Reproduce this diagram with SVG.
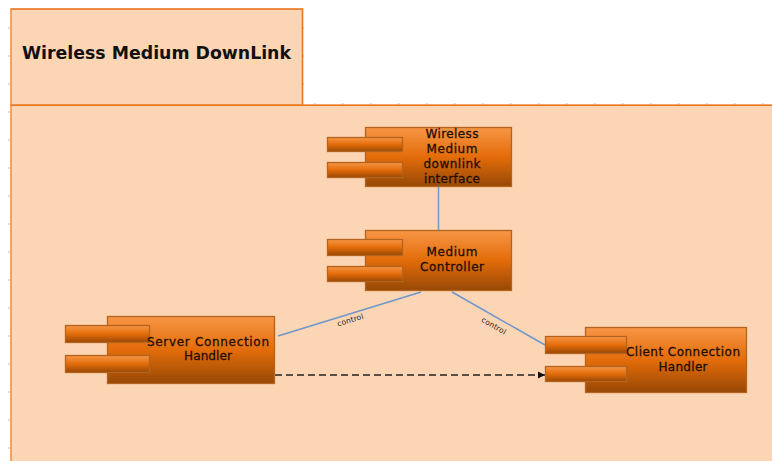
<svg xmlns="http://www.w3.org/2000/svg" width="772" height="461" viewBox="0 0 772 461">
<style>
.pkg{fill:#fcd5b5;stroke:#ee8a3c;stroke-width:1.500}
.edge{fill:none;stroke:#e8761a;stroke-width:1.200}
.body{fill:url(#g);stroke:#b4641f;stroke-width:1.300}
.port{fill:url(#g);stroke:#b4641f;stroke-width:1.300}
.t{font-family:"DejaVu Sans",Verdana,sans-serif;font-size:12px;fill:#1f0f03;stroke:#1f0f03;stroke-width:.3;text-anchor:middle}
.l{font-family:"DejaVu Sans",Verdana,sans-serif;font-size:7.500px;fill:#222;text-anchor:middle}
.c{fill:none;stroke:#6f97cc;stroke-width:1.500}
.tick{fill:none;stroke:#c4bcb6;stroke-width:1;stroke-dasharray:2 26}
</style>
<defs>
<linearGradient id="g" x1="0" y1="0" x2="0" y2="1">
<stop offset="0" stop-color="#f79646"/><stop offset="0.5" stop-color="#e36c09"/><stop offset="1" stop-color="#974806"/>
</linearGradient>
<marker id="a" markerWidth="8" markerHeight="8" refX="7" refY="4" orient="auto" markerUnits="userSpaceOnUse"><path d="M0 0.500L7 4L0 7.500Z" fill="#111"/></marker>
</defs>
<rect width="772" height="461" fill="#fff"/>
<g id="package">
<path class="tick" d="M9 27V461M303 27V104"/>
<path class="tick" d="M314 104H772" style="stroke-dasharray:2 26"/>
<rect class="pkg" x="11" y="9" width="291.500" height="96"/>
<rect class="pkg" x="11" y="105" width="780" height="380"/>
<path class="edge" d="M11 9H302.500V105M11 105.500H772"/>
<text x="156.500" y="59" textLength="269" lengthAdjust="spacingAndGlyphs" style="font-family:'DejaVu Sans',Verdana,sans-serif;font-size:17px;font-weight:bold;fill:#111;text-anchor:middle">Wireless Medium DownLink</text>
</g>
<g id="connectors">
<path class="c" d="M438.500 187V231"/>
<path class="c" d="M278 336L421 292"/>
<path class="c" d="M452 292L545 345"/>
<path d="M275 375H545" fill="none" stroke="#222" stroke-width="1.300" stroke-dasharray="7 4" marker-end="url(#a)"/>
<text class="l" transform="translate(351 322.500) rotate(-17)" textLength="27">control</text>
<text class="l" transform="translate(492.500 328) rotate(30)" textLength="27">control</text>
</g>
<g id="wireless-interface">
<rect class="body" x="365.500" y="127.500" width="146" height="59"/>
<rect class="port" x="327.500" y="137.500" width="75" height="14"/>
<rect class="port" x="327.500" y="162.500" width="75" height="15"/>
<text class="t" x="452" y="138" textLength="53">Wireless</text><text class="t" x="452" y="153" textLength="51">Medium</text><text class="t" x="452" y="168" textLength="57">downlink</text><text class="t" x="452" y="183" textLength="56">interface</text>
</g>
<g id="medium-controller">
<rect class="body" x="365.500" y="230.500" width="146" height="60"/>
<rect class="port" x="327.500" y="239.500" width="75" height="16"/>
<rect class="port" x="327.500" y="266.500" width="75" height="15"/>
<text class="t" x="452" y="256" textLength="51">Medium</text><text class="t" x="452" y="271" textLength="64">Controller</text>
</g>
<g id="server-handler">
<rect class="body" x="107.500" y="316.500" width="167" height="67"/>
<rect class="port" x="65.500" y="325.500" width="84" height="17"/>
<rect class="port" x="65.500" y="355.500" width="84" height="17"/>
<text class="t" x="208" y="346" textLength="122">Server Connection</text><text class="t" x="208" y="360" textLength="48">Handler</text>
</g>
<g id="client-handler">
<rect class="body" x="585.500" y="327.500" width="161" height="65"/>
<rect class="port" x="545.500" y="336.500" width="81" height="17"/>
<rect class="port" x="545.500" y="366.500" width="81" height="15"/>
<text class="t" x="683" y="356" textLength="114">Client Connection</text><text class="t" x="683" y="371" textLength="49">Handler</text>
</g>
</svg>
